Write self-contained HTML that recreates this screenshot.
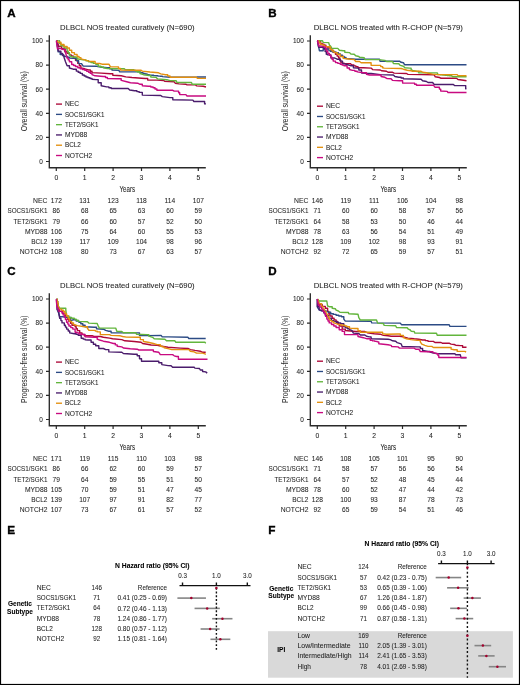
<!DOCTYPE html>
<html><head><meta charset="utf-8"><style>html,body{margin:0;padding:0;background:#fff;width:520px;height:685px;overflow:hidden}svg{will-change:transform}</style></head><body>
<svg width="520" height="685" viewBox="0 0 520 685" style="display:block;font-family:'Liberation Sans',sans-serif">
<rect x="0" y="0" width="520" height="685" fill="#fff"/>
<text x="7.30" y="16.90" font-size="11.6" font-weight="bold" fill="#000" stroke="#000" stroke-width="0.35">A</text>
<text x="60.10" y="30.05" font-size="8.0" textLength="134.40" lengthAdjust="spacingAndGlyphs" fill="#1e1e1e" stroke="#1e1e1e" stroke-width="0.06">DLBCL NOS treated curatively (N=690)</text>
<g transform="translate(23.60,101.25) rotate(-90)">
<text x="-30.00" y="3.03" font-size="8.8" textLength="60.00" lengthAdjust="spacingAndGlyphs" fill="#262626">Overall survival (%)</text>
</g>
<path d="M49.30 35.20V167.70H205.80" fill="none" stroke="#2a2a2a" stroke-width="1.35"/>
<text x="39.21" y="163.84" font-size="6.8" textLength="3.59" lengthAdjust="spacingAndGlyphs" fill="#1e1e1e" stroke="#1e1e1e" stroke-width="0.06">0</text>
<text x="35.62" y="139.74" font-size="6.8" textLength="7.18" lengthAdjust="spacingAndGlyphs" fill="#1e1e1e" stroke="#1e1e1e" stroke-width="0.06">20</text>
<text x="35.62" y="115.64" font-size="6.8" textLength="7.18" lengthAdjust="spacingAndGlyphs" fill="#1e1e1e" stroke="#1e1e1e" stroke-width="0.06">40</text>
<text x="35.62" y="91.54" font-size="6.8" textLength="7.18" lengthAdjust="spacingAndGlyphs" fill="#1e1e1e" stroke="#1e1e1e" stroke-width="0.06">60</text>
<text x="35.62" y="67.44" font-size="6.8" textLength="7.18" lengthAdjust="spacingAndGlyphs" fill="#1e1e1e" stroke="#1e1e1e" stroke-width="0.06">80</text>
<text x="32.02" y="43.34" font-size="6.8" textLength="10.78" lengthAdjust="spacingAndGlyphs" fill="#1e1e1e" stroke="#1e1e1e" stroke-width="0.06">100</text>
<text x="54.41" y="179.84" font-size="6.8" textLength="3.78" lengthAdjust="spacingAndGlyphs" fill="#1e1e1e" stroke="#1e1e1e" stroke-width="0.06">0</text>
<text x="82.81" y="179.84" font-size="6.8" textLength="3.78" lengthAdjust="spacingAndGlyphs" fill="#1e1e1e" stroke="#1e1e1e" stroke-width="0.06">1</text>
<text x="111.21" y="179.84" font-size="6.8" textLength="3.78" lengthAdjust="spacingAndGlyphs" fill="#1e1e1e" stroke="#1e1e1e" stroke-width="0.06">2</text>
<text x="139.61" y="179.84" font-size="6.8" textLength="3.78" lengthAdjust="spacingAndGlyphs" fill="#1e1e1e" stroke="#1e1e1e" stroke-width="0.06">3</text>
<text x="168.01" y="179.84" font-size="6.8" textLength="3.78" lengthAdjust="spacingAndGlyphs" fill="#1e1e1e" stroke="#1e1e1e" stroke-width="0.06">4</text>
<text x="196.41" y="179.84" font-size="6.8" textLength="3.78" lengthAdjust="spacingAndGlyphs" fill="#1e1e1e" stroke="#1e1e1e" stroke-width="0.06">5</text>
<path d="M46.00 161.50H49.30M46.00 137.40H49.30M46.00 113.30H49.30M46.00 89.20H49.30M46.00 65.10H49.30M46.00 41.00H49.30M56.30 167.70V171.00M84.70 167.70V171.00M113.10 167.70V171.00M141.50 167.70V171.00M169.90 167.70V171.00M198.30 167.70V171.00" stroke="#2a2a2a" stroke-width="1.2"/>
<text x="119.50" y="191.93" font-size="8.8" textLength="15.60" lengthAdjust="spacingAndGlyphs" fill="#1e1e1e" stroke="#1e1e1e" stroke-width="0.06">Years</text>
<path d="M56.00 104.10H62.00" stroke="#ad0838" stroke-width="1.35"/>
<text x="64.90" y="106.31" font-size="7.0" textLength="14.21" lengthAdjust="spacingAndGlyphs" fill="#1e1e1e" stroke="#1e1e1e" stroke-width="0.06">NEC</text>
<path d="M56.00 114.38H62.00" stroke="#2c4b85" stroke-width="1.35"/>
<text x="64.90" y="116.59" font-size="7.0" textLength="39.47" lengthAdjust="spacingAndGlyphs" fill="#1e1e1e" stroke="#1e1e1e" stroke-width="0.06">SOCS1/SGK1</text>
<path d="M56.00 124.66H62.00" stroke="#62b53c" stroke-width="1.35"/>
<text x="64.90" y="126.87" font-size="7.0" textLength="33.58" lengthAdjust="spacingAndGlyphs" fill="#1e1e1e" stroke="#1e1e1e" stroke-width="0.06">TET2/SGK1</text>
<path d="M56.00 134.94H62.00" stroke="#4a1c6c" stroke-width="1.35"/>
<text x="64.90" y="137.15" font-size="7.0" textLength="22.23" lengthAdjust="spacingAndGlyphs" fill="#1e1e1e" stroke="#1e1e1e" stroke-width="0.06">MYD88</text>
<path d="M56.00 145.22H62.00" stroke="#e3900f" stroke-width="1.35"/>
<text x="64.90" y="147.43" font-size="7.0" textLength="16.05" lengthAdjust="spacingAndGlyphs" fill="#1e1e1e" stroke="#1e1e1e" stroke-width="0.06">BCL2</text>
<path d="M56.00 155.50H62.00" stroke="#c80a80" stroke-width="1.35"/>
<text x="64.90" y="157.71" font-size="7.0" textLength="27.41" lengthAdjust="spacingAndGlyphs" fill="#1e1e1e" stroke="#1e1e1e" stroke-width="0.06">NOTCH2</text>
<text x="33.03" y="203.21" font-size="7.0" textLength="14.37" lengthAdjust="spacingAndGlyphs" fill="#1e1e1e" stroke="#1e1e1e" stroke-width="0.06">NEC</text>
<text x="50.75" y="203.21" font-size="7.0" textLength="11.09" lengthAdjust="spacingAndGlyphs" fill="#1e1e1e" stroke="#1e1e1e" stroke-width="0.06">172</text>
<text x="79.15" y="203.21" font-size="7.0" textLength="11.09" lengthAdjust="spacingAndGlyphs" fill="#1e1e1e" stroke="#1e1e1e" stroke-width="0.06">131</text>
<text x="107.55" y="203.21" font-size="7.0" textLength="11.09" lengthAdjust="spacingAndGlyphs" fill="#1e1e1e" stroke="#1e1e1e" stroke-width="0.06">123</text>
<text x="136.20" y="203.21" font-size="7.0" textLength="10.60" lengthAdjust="spacingAndGlyphs" fill="#1e1e1e" stroke="#1e1e1e" stroke-width="0.06">118</text>
<text x="164.60" y="203.21" font-size="7.0" textLength="10.60" lengthAdjust="spacingAndGlyphs" fill="#1e1e1e" stroke="#1e1e1e" stroke-width="0.06">114</text>
<text x="192.75" y="203.21" font-size="7.0" textLength="11.09" lengthAdjust="spacingAndGlyphs" fill="#1e1e1e" stroke="#1e1e1e" stroke-width="0.06">107</text>
<text x="7.48" y="213.41" font-size="7.0" textLength="39.92" lengthAdjust="spacingAndGlyphs" fill="#1e1e1e" stroke="#1e1e1e" stroke-width="0.06">SOCS1/SGK1</text>
<text x="52.60" y="213.41" font-size="7.0" textLength="7.40" lengthAdjust="spacingAndGlyphs" fill="#1e1e1e" stroke="#1e1e1e" stroke-width="0.06">86</text>
<text x="81.00" y="213.41" font-size="7.0" textLength="7.40" lengthAdjust="spacingAndGlyphs" fill="#1e1e1e" stroke="#1e1e1e" stroke-width="0.06">68</text>
<text x="109.40" y="213.41" font-size="7.0" textLength="7.40" lengthAdjust="spacingAndGlyphs" fill="#1e1e1e" stroke="#1e1e1e" stroke-width="0.06">65</text>
<text x="137.80" y="213.41" font-size="7.0" textLength="7.40" lengthAdjust="spacingAndGlyphs" fill="#1e1e1e" stroke="#1e1e1e" stroke-width="0.06">63</text>
<text x="166.20" y="213.41" font-size="7.0" textLength="7.40" lengthAdjust="spacingAndGlyphs" fill="#1e1e1e" stroke="#1e1e1e" stroke-width="0.06">60</text>
<text x="194.60" y="213.41" font-size="7.0" textLength="7.40" lengthAdjust="spacingAndGlyphs" fill="#1e1e1e" stroke="#1e1e1e" stroke-width="0.06">59</text>
<text x="13.44" y="223.61" font-size="7.0" textLength="33.96" lengthAdjust="spacingAndGlyphs" fill="#1e1e1e" stroke="#1e1e1e" stroke-width="0.06">TET2/SGK1</text>
<text x="52.60" y="223.61" font-size="7.0" textLength="7.40" lengthAdjust="spacingAndGlyphs" fill="#1e1e1e" stroke="#1e1e1e" stroke-width="0.06">79</text>
<text x="81.00" y="223.61" font-size="7.0" textLength="7.40" lengthAdjust="spacingAndGlyphs" fill="#1e1e1e" stroke="#1e1e1e" stroke-width="0.06">66</text>
<text x="109.40" y="223.61" font-size="7.0" textLength="7.40" lengthAdjust="spacingAndGlyphs" fill="#1e1e1e" stroke="#1e1e1e" stroke-width="0.06">60</text>
<text x="137.80" y="223.61" font-size="7.0" textLength="7.40" lengthAdjust="spacingAndGlyphs" fill="#1e1e1e" stroke="#1e1e1e" stroke-width="0.06">57</text>
<text x="166.20" y="223.61" font-size="7.0" textLength="7.40" lengthAdjust="spacingAndGlyphs" fill="#1e1e1e" stroke="#1e1e1e" stroke-width="0.06">52</text>
<text x="194.60" y="223.61" font-size="7.0" textLength="7.40" lengthAdjust="spacingAndGlyphs" fill="#1e1e1e" stroke="#1e1e1e" stroke-width="0.06">50</text>
<text x="24.92" y="233.81" font-size="7.0" textLength="22.48" lengthAdjust="spacingAndGlyphs" fill="#1e1e1e" stroke="#1e1e1e" stroke-width="0.06">MYD88</text>
<text x="50.75" y="233.81" font-size="7.0" textLength="11.09" lengthAdjust="spacingAndGlyphs" fill="#1e1e1e" stroke="#1e1e1e" stroke-width="0.06">106</text>
<text x="81.00" y="233.81" font-size="7.0" textLength="7.40" lengthAdjust="spacingAndGlyphs" fill="#1e1e1e" stroke="#1e1e1e" stroke-width="0.06">75</text>
<text x="109.40" y="233.81" font-size="7.0" textLength="7.40" lengthAdjust="spacingAndGlyphs" fill="#1e1e1e" stroke="#1e1e1e" stroke-width="0.06">64</text>
<text x="137.80" y="233.81" font-size="7.0" textLength="7.40" lengthAdjust="spacingAndGlyphs" fill="#1e1e1e" stroke="#1e1e1e" stroke-width="0.06">60</text>
<text x="166.20" y="233.81" font-size="7.0" textLength="7.40" lengthAdjust="spacingAndGlyphs" fill="#1e1e1e" stroke="#1e1e1e" stroke-width="0.06">55</text>
<text x="194.60" y="233.81" font-size="7.0" textLength="7.40" lengthAdjust="spacingAndGlyphs" fill="#1e1e1e" stroke="#1e1e1e" stroke-width="0.06">53</text>
<text x="31.17" y="244.01" font-size="7.0" textLength="16.23" lengthAdjust="spacingAndGlyphs" fill="#1e1e1e" stroke="#1e1e1e" stroke-width="0.06">BCL2</text>
<text x="50.75" y="244.01" font-size="7.0" textLength="11.09" lengthAdjust="spacingAndGlyphs" fill="#1e1e1e" stroke="#1e1e1e" stroke-width="0.06">139</text>
<text x="79.40" y="244.01" font-size="7.0" textLength="10.60" lengthAdjust="spacingAndGlyphs" fill="#1e1e1e" stroke="#1e1e1e" stroke-width="0.06">117</text>
<text x="107.55" y="244.01" font-size="7.0" textLength="11.09" lengthAdjust="spacingAndGlyphs" fill="#1e1e1e" stroke="#1e1e1e" stroke-width="0.06">109</text>
<text x="135.95" y="244.01" font-size="7.0" textLength="11.09" lengthAdjust="spacingAndGlyphs" fill="#1e1e1e" stroke="#1e1e1e" stroke-width="0.06">104</text>
<text x="166.20" y="244.01" font-size="7.0" textLength="7.40" lengthAdjust="spacingAndGlyphs" fill="#1e1e1e" stroke="#1e1e1e" stroke-width="0.06">98</text>
<text x="194.60" y="244.01" font-size="7.0" textLength="7.40" lengthAdjust="spacingAndGlyphs" fill="#1e1e1e" stroke="#1e1e1e" stroke-width="0.06">96</text>
<text x="19.69" y="254.21" font-size="7.0" textLength="27.71" lengthAdjust="spacingAndGlyphs" fill="#1e1e1e" stroke="#1e1e1e" stroke-width="0.06">NOTCH2</text>
<text x="50.75" y="254.21" font-size="7.0" textLength="11.09" lengthAdjust="spacingAndGlyphs" fill="#1e1e1e" stroke="#1e1e1e" stroke-width="0.06">108</text>
<text x="81.00" y="254.21" font-size="7.0" textLength="7.40" lengthAdjust="spacingAndGlyphs" fill="#1e1e1e" stroke="#1e1e1e" stroke-width="0.06">80</text>
<text x="109.40" y="254.21" font-size="7.0" textLength="7.40" lengthAdjust="spacingAndGlyphs" fill="#1e1e1e" stroke="#1e1e1e" stroke-width="0.06">73</text>
<text x="137.80" y="254.21" font-size="7.0" textLength="7.40" lengthAdjust="spacingAndGlyphs" fill="#1e1e1e" stroke="#1e1e1e" stroke-width="0.06">67</text>
<text x="166.20" y="254.21" font-size="7.0" textLength="7.40" lengthAdjust="spacingAndGlyphs" fill="#1e1e1e" stroke="#1e1e1e" stroke-width="0.06">63</text>
<text x="194.60" y="254.21" font-size="7.0" textLength="7.40" lengthAdjust="spacingAndGlyphs" fill="#1e1e1e" stroke="#1e1e1e" stroke-width="0.06">57</text>
<path d="M56.7,40.7 H57.3 V42.6 H58.0 V44.6 H58.6 V46.5 H61.7 V48.8 H64.8 V51.8 H67.1 V53.3 H69.4 V54.9 H71.3 V56.0 H73.2 V57.2 H75.5 V60.3 H77.8 V63.4 H79.3 V65.7 H80.9 V68.0 L84.8,68.8 L88.6,69.9 H90.3 V71.2 H92.0 V72.6 L101.2,73.1 L110.5,73.8 H112.8 V75.2 L121.2,75.8 L125.8,76.9 L132.0,77.5 L141.5,78.2 L145.4,78.5 H147.7 V80.1 L156.9,80.1 L163.8,80.5 L164.6,81.2 L174.2,81.8 L175.2,83.2 L179.0,83.9 L186.0,84.2 L187.0,84.9 L195.6,84.9 L196.7,85.9 L203.2,86.3 L206.0,87.0" fill="none" stroke="#ad0838" stroke-width="1.4" stroke-linejoin="round"/>
<path d="M56.7,40.7 L58.2,51.8 H60.2 V54.5 H63.2 V56.1 L65.5,56.5 H67.5 V57.2 H69.4 V58.0 L73.2,58.4 H76.3 V60.7 H78.6 V63.4 L81.7,63.8 L83.2,66.1 L96.6,66.2 L102.0,67.3 L107.4,67.7 H109.7 V68.8 H112.0 V70.0 L118.9,70.4 L119.7,71.9 L137.7,71.9 H140.3 V72.7 H143.0 V73.5 H145.1 V74.0 H147.1 V74.6 H149.2 V75.1 H151.4 V75.3 H153.6 V75.6 H155.8 V75.8 H157.9 V76.1 H160.1 V76.3 H162.3 V76.6 L170.0,77.3 L196.7,77.3 L197.4,77.0 L206.0,77.0" fill="none" stroke="#2c4b85" stroke-width="1.4" stroke-linejoin="round"/>
<path d="M58.2,40.7 H59.5 V43.2 H60.9 V45.7 H64.0 V48.0 H67.1 V51.1 H68.2 V52.8 H69.4 V54.5 L70.9,56.5 L74.8,57.2 H77.1 V58.8 L83.2,59.9 H85.9 V60.8 H88.6 V61.8 H91.0 V62.6 H93.4 V63.4 H95.8 V64.2 H98.2 V66.2 H100.8 V67.0 H103.5 V67.7 L107.4,68.5 L124.3,68.8 L125.1,69.6 L132.0,69.6 H133.9 V70.4 H135.8 V71.2 H137.7 V72.0 H140.0 V73.5 L143.5,74.7 L149.2,75.5 H150.8 V77.0 L156.2,77.4 L157.7,78.9 L166.9,79.7 L170.0,80.6 L176.2,80.7 L176.9,82.5 L191.5,82.5 L192.2,84.2 L206.0,84.2" fill="none" stroke="#62b53c" stroke-width="1.4" stroke-linejoin="round"/>
<path d="M56.7,40.7 L58.2,51.1 H60.9 V53.4 H62.5 V55.3 H64.0 V57.2 L65.5,61.8 L67.1,65.7 H69.4 V68.0 L73.2,69.2 H76.3 V71.1 H78.2 V72.2 H80.2 V73.4 H82.3 V75.0 H84.2 V76.0 H86.0 V77.0 H88.0 V77.7 H90.0 V78.5 H92.0 V79.2 L95.8,79.6 H98.2 V82.7 H101.2 V85.8 L106.6,86.9 H108.9 V87.7 H111.2 V88.5 L128.2,88.5 L129.7,90.0 L134.6,90.8 H136.9 V91.6 H139.2 V92.4 H142.3 V95.1 L160.8,95.5 L162.3,96.6 L170.0,97.6 H172.8 V99.8 L192.9,100.1 L193.9,101.5 L202.5,101.5 H204.6 V103.9 L206.0,103.9" fill="none" stroke="#4a1c6c" stroke-width="1.4" stroke-linejoin="round"/>
<path d="M56.7,40.7 L58.2,42.2 H60.9 V44.5 H64.0 V46.5 H67.1 V48.0 H69.4 V50.3 H71.7 V52.6 H74.4 V54.5 H77.1 V56.5 H79.0 V57.6 H80.9 V58.8 L84.8,59.9 L88.6,61.1 L92.0,61.5 H95.1 V63.1 L99.7,63.5 L102.0,64.2 L108.9,64.2 L110.5,66.9 L116.6,66.9 H118.5 V68.5 H120.5 V70.0 L130.0,70.2 L140.8,70.1 L142.3,71.1 L150.0,72.0 L158.5,72.8 L160.8,73.9 L165.4,74.7 H167.7 V76.0 H170.0 V77.3 L196.7,77.3 L197.4,78.4 L206.0,78.4" fill="none" stroke="#e3900f" stroke-width="1.4" stroke-linejoin="round"/>
<path d="M56.3,40.7 L57.5,48.8 L60.2,48.4 L63.2,49.5 H65.5 V52.6 L67.1,58.0 H68.2 V59.9 H69.4 V61.8 H71.7 V64.5 H73.6 V65.5 H75.5 V66.5 H77.8 V67.7 H80.2 V68.8 H82.5 V69.5 H84.8 V70.3 H86.7 V71.2 H88.6 V72.2 H90.3 V73.4 H92.0 V74.6 L95.1,75.8 L103.5,76.5 H105.5 V77.5 H107.4 V78.5 L118.2,78.8 H121.2 V80.4 L125.8,81.5 L130.5,82.7 L137.7,83.2 L140.0,84.3 H142.3 V85.8 L148.5,86.2 H150.8 V87.0 H153.1 V87.8 H155.0 V89.0 H156.9 V90.3 L172.8,90.3 L174.2,91.1 L177.6,91.1 H178.6 V92.8 H179.7 V94.6 L185.9,94.6 L187.0,96.0 L206.0,96.0" fill="none" stroke="#c80a80" stroke-width="1.4" stroke-linejoin="round"/>
<text x="268.30" y="16.90" font-size="11.6" font-weight="bold" fill="#000" stroke="#000" stroke-width="0.35">B</text>
<text x="313.70" y="30.05" font-size="8.0" textLength="149.20" lengthAdjust="spacingAndGlyphs" fill="#1e1e1e" stroke="#1e1e1e" stroke-width="0.06">DLBCL NOS treated with R-CHOP (N=579)</text>
<g transform="translate(284.60,101.25) rotate(-90)">
<text x="-30.00" y="3.03" font-size="8.8" textLength="60.00" lengthAdjust="spacingAndGlyphs" fill="#262626">Overall survival (%)</text>
</g>
<path d="M310.30 35.20V167.70H466.80" fill="none" stroke="#2a2a2a" stroke-width="1.35"/>
<text x="300.21" y="163.84" font-size="6.8" textLength="3.59" lengthAdjust="spacingAndGlyphs" fill="#1e1e1e" stroke="#1e1e1e" stroke-width="0.06">0</text>
<text x="296.62" y="139.74" font-size="6.8" textLength="7.18" lengthAdjust="spacingAndGlyphs" fill="#1e1e1e" stroke="#1e1e1e" stroke-width="0.06">20</text>
<text x="296.62" y="115.64" font-size="6.8" textLength="7.18" lengthAdjust="spacingAndGlyphs" fill="#1e1e1e" stroke="#1e1e1e" stroke-width="0.06">40</text>
<text x="296.62" y="91.54" font-size="6.8" textLength="7.18" lengthAdjust="spacingAndGlyphs" fill="#1e1e1e" stroke="#1e1e1e" stroke-width="0.06">60</text>
<text x="296.62" y="67.44" font-size="6.8" textLength="7.18" lengthAdjust="spacingAndGlyphs" fill="#1e1e1e" stroke="#1e1e1e" stroke-width="0.06">80</text>
<text x="293.02" y="43.34" font-size="6.8" textLength="10.78" lengthAdjust="spacingAndGlyphs" fill="#1e1e1e" stroke="#1e1e1e" stroke-width="0.06">100</text>
<text x="315.41" y="179.84" font-size="6.8" textLength="3.78" lengthAdjust="spacingAndGlyphs" fill="#1e1e1e" stroke="#1e1e1e" stroke-width="0.06">0</text>
<text x="343.81" y="179.84" font-size="6.8" textLength="3.78" lengthAdjust="spacingAndGlyphs" fill="#1e1e1e" stroke="#1e1e1e" stroke-width="0.06">1</text>
<text x="372.21" y="179.84" font-size="6.8" textLength="3.78" lengthAdjust="spacingAndGlyphs" fill="#1e1e1e" stroke="#1e1e1e" stroke-width="0.06">2</text>
<text x="400.61" y="179.84" font-size="6.8" textLength="3.78" lengthAdjust="spacingAndGlyphs" fill="#1e1e1e" stroke="#1e1e1e" stroke-width="0.06">3</text>
<text x="429.01" y="179.84" font-size="6.8" textLength="3.78" lengthAdjust="spacingAndGlyphs" fill="#1e1e1e" stroke="#1e1e1e" stroke-width="0.06">4</text>
<text x="457.41" y="179.84" font-size="6.8" textLength="3.78" lengthAdjust="spacingAndGlyphs" fill="#1e1e1e" stroke="#1e1e1e" stroke-width="0.06">5</text>
<path d="M307.00 161.50H310.30M307.00 137.40H310.30M307.00 113.30H310.30M307.00 89.20H310.30M307.00 65.10H310.30M307.00 41.00H310.30M317.30 167.70V171.00M345.70 167.70V171.00M374.10 167.70V171.00M402.50 167.70V171.00M430.90 167.70V171.00M459.30 167.70V171.00" stroke="#2a2a2a" stroke-width="1.2"/>
<text x="380.50" y="191.93" font-size="8.8" textLength="15.60" lengthAdjust="spacingAndGlyphs" fill="#1e1e1e" stroke="#1e1e1e" stroke-width="0.06">Years</text>
<path d="M317.00 106.20H323.00" stroke="#ad0838" stroke-width="1.35"/>
<text x="325.90" y="108.41" font-size="7.0" textLength="14.21" lengthAdjust="spacingAndGlyphs" fill="#1e1e1e" stroke="#1e1e1e" stroke-width="0.06">NEC</text>
<path d="M317.00 116.48H323.00" stroke="#2c4b85" stroke-width="1.35"/>
<text x="325.90" y="118.69" font-size="7.0" textLength="39.47" lengthAdjust="spacingAndGlyphs" fill="#1e1e1e" stroke="#1e1e1e" stroke-width="0.06">SOCS1/SGK1</text>
<path d="M317.00 126.76H323.00" stroke="#62b53c" stroke-width="1.35"/>
<text x="325.90" y="128.97" font-size="7.0" textLength="33.58" lengthAdjust="spacingAndGlyphs" fill="#1e1e1e" stroke="#1e1e1e" stroke-width="0.06">TET2/SGK1</text>
<path d="M317.00 137.04H323.00" stroke="#4a1c6c" stroke-width="1.35"/>
<text x="325.90" y="139.25" font-size="7.0" textLength="22.23" lengthAdjust="spacingAndGlyphs" fill="#1e1e1e" stroke="#1e1e1e" stroke-width="0.06">MYD88</text>
<path d="M317.00 147.32H323.00" stroke="#e3900f" stroke-width="1.35"/>
<text x="325.90" y="149.53" font-size="7.0" textLength="16.05" lengthAdjust="spacingAndGlyphs" fill="#1e1e1e" stroke="#1e1e1e" stroke-width="0.06">BCL2</text>
<path d="M317.00 157.60H323.00" stroke="#c80a80" stroke-width="1.35"/>
<text x="325.90" y="159.81" font-size="7.0" textLength="27.41" lengthAdjust="spacingAndGlyphs" fill="#1e1e1e" stroke="#1e1e1e" stroke-width="0.06">NOTCH2</text>
<text x="294.03" y="203.21" font-size="7.0" textLength="14.37" lengthAdjust="spacingAndGlyphs" fill="#1e1e1e" stroke="#1e1e1e" stroke-width="0.06">NEC</text>
<text x="311.75" y="203.21" font-size="7.0" textLength="11.09" lengthAdjust="spacingAndGlyphs" fill="#1e1e1e" stroke="#1e1e1e" stroke-width="0.06">146</text>
<text x="340.40" y="203.21" font-size="7.0" textLength="10.60" lengthAdjust="spacingAndGlyphs" fill="#1e1e1e" stroke="#1e1e1e" stroke-width="0.06">119</text>
<text x="369.05" y="203.21" font-size="7.0" textLength="10.11" lengthAdjust="spacingAndGlyphs" fill="#1e1e1e" stroke="#1e1e1e" stroke-width="0.06">111</text>
<text x="396.95" y="203.21" font-size="7.0" textLength="11.09" lengthAdjust="spacingAndGlyphs" fill="#1e1e1e" stroke="#1e1e1e" stroke-width="0.06">106</text>
<text x="425.35" y="203.21" font-size="7.0" textLength="11.09" lengthAdjust="spacingAndGlyphs" fill="#1e1e1e" stroke="#1e1e1e" stroke-width="0.06">104</text>
<text x="455.60" y="203.21" font-size="7.0" textLength="7.40" lengthAdjust="spacingAndGlyphs" fill="#1e1e1e" stroke="#1e1e1e" stroke-width="0.06">98</text>
<text x="268.48" y="213.41" font-size="7.0" textLength="39.92" lengthAdjust="spacingAndGlyphs" fill="#1e1e1e" stroke="#1e1e1e" stroke-width="0.06">SOCS1/SGK1</text>
<text x="313.60" y="213.41" font-size="7.0" textLength="7.40" lengthAdjust="spacingAndGlyphs" fill="#1e1e1e" stroke="#1e1e1e" stroke-width="0.06">71</text>
<text x="342.00" y="213.41" font-size="7.0" textLength="7.40" lengthAdjust="spacingAndGlyphs" fill="#1e1e1e" stroke="#1e1e1e" stroke-width="0.06">60</text>
<text x="370.40" y="213.41" font-size="7.0" textLength="7.40" lengthAdjust="spacingAndGlyphs" fill="#1e1e1e" stroke="#1e1e1e" stroke-width="0.06">60</text>
<text x="398.80" y="213.41" font-size="7.0" textLength="7.40" lengthAdjust="spacingAndGlyphs" fill="#1e1e1e" stroke="#1e1e1e" stroke-width="0.06">58</text>
<text x="427.20" y="213.41" font-size="7.0" textLength="7.40" lengthAdjust="spacingAndGlyphs" fill="#1e1e1e" stroke="#1e1e1e" stroke-width="0.06">57</text>
<text x="455.60" y="213.41" font-size="7.0" textLength="7.40" lengthAdjust="spacingAndGlyphs" fill="#1e1e1e" stroke="#1e1e1e" stroke-width="0.06">56</text>
<text x="274.44" y="223.61" font-size="7.0" textLength="33.96" lengthAdjust="spacingAndGlyphs" fill="#1e1e1e" stroke="#1e1e1e" stroke-width="0.06">TET2/SGK1</text>
<text x="313.60" y="223.61" font-size="7.0" textLength="7.40" lengthAdjust="spacingAndGlyphs" fill="#1e1e1e" stroke="#1e1e1e" stroke-width="0.06">64</text>
<text x="342.00" y="223.61" font-size="7.0" textLength="7.40" lengthAdjust="spacingAndGlyphs" fill="#1e1e1e" stroke="#1e1e1e" stroke-width="0.06">58</text>
<text x="370.40" y="223.61" font-size="7.0" textLength="7.40" lengthAdjust="spacingAndGlyphs" fill="#1e1e1e" stroke="#1e1e1e" stroke-width="0.06">53</text>
<text x="398.80" y="223.61" font-size="7.0" textLength="7.40" lengthAdjust="spacingAndGlyphs" fill="#1e1e1e" stroke="#1e1e1e" stroke-width="0.06">50</text>
<text x="427.20" y="223.61" font-size="7.0" textLength="7.40" lengthAdjust="spacingAndGlyphs" fill="#1e1e1e" stroke="#1e1e1e" stroke-width="0.06">46</text>
<text x="455.60" y="223.61" font-size="7.0" textLength="7.40" lengthAdjust="spacingAndGlyphs" fill="#1e1e1e" stroke="#1e1e1e" stroke-width="0.06">44</text>
<text x="285.92" y="233.81" font-size="7.0" textLength="22.48" lengthAdjust="spacingAndGlyphs" fill="#1e1e1e" stroke="#1e1e1e" stroke-width="0.06">MYD88</text>
<text x="313.60" y="233.81" font-size="7.0" textLength="7.40" lengthAdjust="spacingAndGlyphs" fill="#1e1e1e" stroke="#1e1e1e" stroke-width="0.06">78</text>
<text x="342.00" y="233.81" font-size="7.0" textLength="7.40" lengthAdjust="spacingAndGlyphs" fill="#1e1e1e" stroke="#1e1e1e" stroke-width="0.06">63</text>
<text x="370.40" y="233.81" font-size="7.0" textLength="7.40" lengthAdjust="spacingAndGlyphs" fill="#1e1e1e" stroke="#1e1e1e" stroke-width="0.06">56</text>
<text x="398.80" y="233.81" font-size="7.0" textLength="7.40" lengthAdjust="spacingAndGlyphs" fill="#1e1e1e" stroke="#1e1e1e" stroke-width="0.06">54</text>
<text x="427.20" y="233.81" font-size="7.0" textLength="7.40" lengthAdjust="spacingAndGlyphs" fill="#1e1e1e" stroke="#1e1e1e" stroke-width="0.06">51</text>
<text x="455.60" y="233.81" font-size="7.0" textLength="7.40" lengthAdjust="spacingAndGlyphs" fill="#1e1e1e" stroke="#1e1e1e" stroke-width="0.06">49</text>
<text x="292.17" y="244.01" font-size="7.0" textLength="16.23" lengthAdjust="spacingAndGlyphs" fill="#1e1e1e" stroke="#1e1e1e" stroke-width="0.06">BCL2</text>
<text x="311.75" y="244.01" font-size="7.0" textLength="11.09" lengthAdjust="spacingAndGlyphs" fill="#1e1e1e" stroke="#1e1e1e" stroke-width="0.06">128</text>
<text x="340.15" y="244.01" font-size="7.0" textLength="11.09" lengthAdjust="spacingAndGlyphs" fill="#1e1e1e" stroke="#1e1e1e" stroke-width="0.06">109</text>
<text x="368.55" y="244.01" font-size="7.0" textLength="11.09" lengthAdjust="spacingAndGlyphs" fill="#1e1e1e" stroke="#1e1e1e" stroke-width="0.06">102</text>
<text x="398.80" y="244.01" font-size="7.0" textLength="7.40" lengthAdjust="spacingAndGlyphs" fill="#1e1e1e" stroke="#1e1e1e" stroke-width="0.06">98</text>
<text x="427.20" y="244.01" font-size="7.0" textLength="7.40" lengthAdjust="spacingAndGlyphs" fill="#1e1e1e" stroke="#1e1e1e" stroke-width="0.06">93</text>
<text x="455.60" y="244.01" font-size="7.0" textLength="7.40" lengthAdjust="spacingAndGlyphs" fill="#1e1e1e" stroke="#1e1e1e" stroke-width="0.06">91</text>
<text x="280.69" y="254.21" font-size="7.0" textLength="27.71" lengthAdjust="spacingAndGlyphs" fill="#1e1e1e" stroke="#1e1e1e" stroke-width="0.06">NOTCH2</text>
<text x="313.60" y="254.21" font-size="7.0" textLength="7.40" lengthAdjust="spacingAndGlyphs" fill="#1e1e1e" stroke="#1e1e1e" stroke-width="0.06">92</text>
<text x="342.00" y="254.21" font-size="7.0" textLength="7.40" lengthAdjust="spacingAndGlyphs" fill="#1e1e1e" stroke="#1e1e1e" stroke-width="0.06">72</text>
<text x="370.40" y="254.21" font-size="7.0" textLength="7.40" lengthAdjust="spacingAndGlyphs" fill="#1e1e1e" stroke="#1e1e1e" stroke-width="0.06">65</text>
<text x="398.80" y="254.21" font-size="7.0" textLength="7.40" lengthAdjust="spacingAndGlyphs" fill="#1e1e1e" stroke="#1e1e1e" stroke-width="0.06">59</text>
<text x="427.20" y="254.21" font-size="7.0" textLength="7.40" lengthAdjust="spacingAndGlyphs" fill="#1e1e1e" stroke="#1e1e1e" stroke-width="0.06">57</text>
<text x="455.60" y="254.21" font-size="7.0" textLength="7.40" lengthAdjust="spacingAndGlyphs" fill="#1e1e1e" stroke="#1e1e1e" stroke-width="0.06">51</text>
<path d="M317.5,40.9 H320.5 V43.4 H322.2 V44.3 H324.0 V45.3 H325.9 V46.6 H327.8 V48.0 H330.9 V50.3 H333.2 V52.2 H335.5 V54.2 H337.1 V56.1 H338.6 V58.0 H339.8 V60.3 H340.9 V62.6 L344.8,63.4 L348.0,63.6 L350.3,63.6 L351.8,65.0 H353.9 V65.9 H355.9 V66.8 H358.0 V67.7 L363.4,67.7 L371.1,68.1 L372.6,69.6 L380.3,70.0 L381.8,70.8 L386.5,71.2 L388.0,72.3 L392.6,72.3 L394.2,73.1 L406.5,73.5 L408.0,74.4 L434.2,74.8 L435.3,76.8 L439.5,77.5 L441.1,78.3 L456.5,78.3 L458.0,79.5 L463.4,80.2 L466.5,80.8" fill="none" stroke="#ad0838" stroke-width="1.4" stroke-linejoin="round"/>
<path d="M317.5,40.9 L318.6,46.5 L319.4,50.7 L323.2,50.7 L323.2,48.2 L326.0,49.0 H328.1 V50.1 H330.2 V51.2 H332.2 V51.7 H334.3 V52.1 H336.3 V52.6 H338.4 V53.9 H340.4 V55.2 H342.5 V56.5 H344.2 V57.5 H346.0 V58.5 L355.7,59.2 L379.5,59.2 L380.0,61.2 L399.5,61.2 L401.1,62.3 L403.4,62.7 L404.5,64.7 L466.5,64.7" fill="none" stroke="#2c4b85" stroke-width="1.4" stroke-linejoin="round"/>
<path d="M317.5,40.7 L322.5,40.7 L323.2,42.4 L328.6,42.6 L329.4,44.9 L330.9,46.5 L331.7,48.2 L337.8,48.4 L339.4,50.3 L343.2,50.7 H344.8 V52.2 L349.4,52.6 L350.9,54.0 L354.2,54.2 L355.7,55.8 L358.8,56.5 L359.5,57.3 L364.2,57.7 L364.9,59.6 L378.8,59.6 L384.9,60.4 L386.5,61.5 L392.6,61.5 L393.4,63.5 L398.8,63.8 L400.3,65.4 L403.4,66.2 L404.9,67.7 L409.5,68.1 H411.1 V69.6 L412.6,70.4 L417.2,71.5 H418.8 V72.9 L437.2,72.9 L438.0,74.6 H440.3 V74.8 H442.6 V75.1 H444.9 V75.3 H447.2 V75.5 H449.5 V75.8 H451.8 V76.0 L452.6,76.8 L466.5,76.8" fill="none" stroke="#62b53c" stroke-width="1.4" stroke-linejoin="round"/>
<path d="M317.5,40.9 L318.6,47.2 L321.7,47.2 H324.0 V48.8 H325.1 V51.5 H326.3 V54.2 L327.8,54.9 H330.9 V58.0 L334.8,58.0 L337.1,59.2 H340.2 V61.1 H342.5 V63.4 L347.1,64.5 L351.1,65.8 H353.4 V67.7 L357.2,68.1 H358.8 V70.0 H361.5 V71.5 L361.8,73.1 L371.1,73.5 L380.3,74.6 L393.4,75.0 L394.9,76.5 L398.8,77.3 H401.1 V78.0 H403.4 V78.8 L421.1,79.2 L422.6,80.8 L426.5,81.5 L428.0,82.5 L432.6,82.5 L434.2,84.5 L453.4,84.5 L454.5,85.6 L463.4,85.6 H465.7 V88.7 L466.5,88.9" fill="none" stroke="#4a1c6c" stroke-width="1.4" stroke-linejoin="round"/>
<path d="M317.5,40.9 H318.9 V42.5 H320.2 V44.2 H322.1 V45.0 H324.0 V45.7 L327.1,46.8 H330.2 V49.5 H332.1 V51.0 H334.0 V52.6 H337.1 V54.2 H340.2 V56.5 H343.2 V58.4 L348.6,59.0 L354.2,59.6 L355.7,61.5 L359.5,61.5 L361.1,62.7 L369.5,62.8 H371.1 V65.2 L378.8,65.4 H380.7 V66.6 H382.6 V67.7 L384.2,68.1 L401.1,68.5 L403.4,69.2 L407.2,70.2 L411.1,70.8 L412.6,71.2 L421.1,71.2 L422.6,72.3 L426.5,72.7 L428.0,73.3 L432.6,74.1 L437.2,74.6 L457.2,74.6 L458.0,75.6 L466.5,75.8" fill="none" stroke="#e3900f" stroke-width="1.4" stroke-linejoin="round"/>
<path d="M317.0,40.7 H317.8 V43.2 H318.6 V45.7 L321.7,46.1 L324.8,47.2 H325.8 V49.3 H326.8 V51.3 H327.8 V53.4 H329.4 V55.3 H330.9 V57.2 H332.0 V59.2 H333.2 V61.1 H335.5 V62.6 H337.9 V63.4 H340.2 V64.2 H342.1 V65.0 H344.0 V65.7 H347.1 V68.0 H349.4 V69.5 L352.6,70.4 H354.9 V71.2 H357.2 V71.9 L363.4,72.7 H366.5 V74.2 L369.5,75.0 L378.8,75.0 H381.1 V76.5 L384.9,77.3 L387.2,78.6 L391.1,78.8 L392.6,80.4 L399.5,80.8 H402.6 V83.1 L412.6,83.1 H414.6 V84.2 H416.5 V85.2 L433.4,85.2 L434.9,87.2 L438.0,87.2 H439.4 V89.1 H440.7 V91.0 L447.2,91.4 L448.0,92.5 L466.5,92.5" fill="none" stroke="#c80a80" stroke-width="1.4" stroke-linejoin="round"/>
<text x="7.30" y="274.90" font-size="11.6" font-weight="bold" fill="#000" stroke="#000" stroke-width="0.35">C</text>
<text x="60.10" y="288.05" font-size="8.0" textLength="134.40" lengthAdjust="spacingAndGlyphs" fill="#1e1e1e" stroke="#1e1e1e" stroke-width="0.06">DLBCL NOS treated curatively (N=690)</text>
<g transform="translate(23.60,359.25) rotate(-90)">
<text x="-43.75" y="3.03" font-size="8.8" textLength="87.50" lengthAdjust="spacingAndGlyphs" fill="#262626">Progression-free survival (%)</text>
</g>
<path d="M49.30 293.20V425.70H205.80" fill="none" stroke="#2a2a2a" stroke-width="1.35"/>
<text x="39.21" y="421.84" font-size="6.8" textLength="3.59" lengthAdjust="spacingAndGlyphs" fill="#1e1e1e" stroke="#1e1e1e" stroke-width="0.06">0</text>
<text x="35.62" y="397.74" font-size="6.8" textLength="7.18" lengthAdjust="spacingAndGlyphs" fill="#1e1e1e" stroke="#1e1e1e" stroke-width="0.06">20</text>
<text x="35.62" y="373.64" font-size="6.8" textLength="7.18" lengthAdjust="spacingAndGlyphs" fill="#1e1e1e" stroke="#1e1e1e" stroke-width="0.06">40</text>
<text x="35.62" y="349.54" font-size="6.8" textLength="7.18" lengthAdjust="spacingAndGlyphs" fill="#1e1e1e" stroke="#1e1e1e" stroke-width="0.06">60</text>
<text x="35.62" y="325.44" font-size="6.8" textLength="7.18" lengthAdjust="spacingAndGlyphs" fill="#1e1e1e" stroke="#1e1e1e" stroke-width="0.06">80</text>
<text x="32.02" y="301.34" font-size="6.8" textLength="10.78" lengthAdjust="spacingAndGlyphs" fill="#1e1e1e" stroke="#1e1e1e" stroke-width="0.06">100</text>
<text x="54.41" y="437.84" font-size="6.8" textLength="3.78" lengthAdjust="spacingAndGlyphs" fill="#1e1e1e" stroke="#1e1e1e" stroke-width="0.06">0</text>
<text x="82.81" y="437.84" font-size="6.8" textLength="3.78" lengthAdjust="spacingAndGlyphs" fill="#1e1e1e" stroke="#1e1e1e" stroke-width="0.06">1</text>
<text x="111.21" y="437.84" font-size="6.8" textLength="3.78" lengthAdjust="spacingAndGlyphs" fill="#1e1e1e" stroke="#1e1e1e" stroke-width="0.06">2</text>
<text x="139.61" y="437.84" font-size="6.8" textLength="3.78" lengthAdjust="spacingAndGlyphs" fill="#1e1e1e" stroke="#1e1e1e" stroke-width="0.06">3</text>
<text x="168.01" y="437.84" font-size="6.8" textLength="3.78" lengthAdjust="spacingAndGlyphs" fill="#1e1e1e" stroke="#1e1e1e" stroke-width="0.06">4</text>
<text x="196.41" y="437.84" font-size="6.8" textLength="3.78" lengthAdjust="spacingAndGlyphs" fill="#1e1e1e" stroke="#1e1e1e" stroke-width="0.06">5</text>
<path d="M46.00 419.50H49.30M46.00 395.40H49.30M46.00 371.30H49.30M46.00 347.20H49.30M46.00 323.10H49.30M46.00 299.00H49.30M56.30 425.70V429.00M84.70 425.70V429.00M113.10 425.70V429.00M141.50 425.70V429.00M169.90 425.70V429.00M198.30 425.70V429.00" stroke="#2a2a2a" stroke-width="1.2"/>
<text x="119.50" y="449.93" font-size="8.8" textLength="15.60" lengthAdjust="spacingAndGlyphs" fill="#1e1e1e" stroke="#1e1e1e" stroke-width="0.06">Years</text>
<path d="M56.00 362.10H62.00" stroke="#ad0838" stroke-width="1.35"/>
<text x="64.90" y="364.31" font-size="7.0" textLength="14.21" lengthAdjust="spacingAndGlyphs" fill="#1e1e1e" stroke="#1e1e1e" stroke-width="0.06">NEC</text>
<path d="M56.00 372.38H62.00" stroke="#2c4b85" stroke-width="1.35"/>
<text x="64.90" y="374.59" font-size="7.0" textLength="39.47" lengthAdjust="spacingAndGlyphs" fill="#1e1e1e" stroke="#1e1e1e" stroke-width="0.06">SOCS1/SGK1</text>
<path d="M56.00 382.66H62.00" stroke="#62b53c" stroke-width="1.35"/>
<text x="64.90" y="384.87" font-size="7.0" textLength="33.58" lengthAdjust="spacingAndGlyphs" fill="#1e1e1e" stroke="#1e1e1e" stroke-width="0.06">TET2/SGK1</text>
<path d="M56.00 392.94H62.00" stroke="#4a1c6c" stroke-width="1.35"/>
<text x="64.90" y="395.15" font-size="7.0" textLength="22.23" lengthAdjust="spacingAndGlyphs" fill="#1e1e1e" stroke="#1e1e1e" stroke-width="0.06">MYD88</text>
<path d="M56.00 403.22H62.00" stroke="#e3900f" stroke-width="1.35"/>
<text x="64.90" y="405.43" font-size="7.0" textLength="16.05" lengthAdjust="spacingAndGlyphs" fill="#1e1e1e" stroke="#1e1e1e" stroke-width="0.06">BCL2</text>
<path d="M56.00 413.50H62.00" stroke="#c80a80" stroke-width="1.35"/>
<text x="64.90" y="415.71" font-size="7.0" textLength="27.41" lengthAdjust="spacingAndGlyphs" fill="#1e1e1e" stroke="#1e1e1e" stroke-width="0.06">NOTCH2</text>
<text x="33.03" y="461.21" font-size="7.0" textLength="14.37" lengthAdjust="spacingAndGlyphs" fill="#1e1e1e" stroke="#1e1e1e" stroke-width="0.06">NEC</text>
<text x="50.75" y="461.21" font-size="7.0" textLength="11.09" lengthAdjust="spacingAndGlyphs" fill="#1e1e1e" stroke="#1e1e1e" stroke-width="0.06">171</text>
<text x="79.40" y="461.21" font-size="7.0" textLength="10.60" lengthAdjust="spacingAndGlyphs" fill="#1e1e1e" stroke="#1e1e1e" stroke-width="0.06">119</text>
<text x="107.80" y="461.21" font-size="7.0" textLength="10.60" lengthAdjust="spacingAndGlyphs" fill="#1e1e1e" stroke="#1e1e1e" stroke-width="0.06">115</text>
<text x="136.20" y="461.21" font-size="7.0" textLength="10.60" lengthAdjust="spacingAndGlyphs" fill="#1e1e1e" stroke="#1e1e1e" stroke-width="0.06">110</text>
<text x="164.35" y="461.21" font-size="7.0" textLength="11.09" lengthAdjust="spacingAndGlyphs" fill="#1e1e1e" stroke="#1e1e1e" stroke-width="0.06">103</text>
<text x="194.60" y="461.21" font-size="7.0" textLength="7.40" lengthAdjust="spacingAndGlyphs" fill="#1e1e1e" stroke="#1e1e1e" stroke-width="0.06">98</text>
<text x="7.48" y="471.41" font-size="7.0" textLength="39.92" lengthAdjust="spacingAndGlyphs" fill="#1e1e1e" stroke="#1e1e1e" stroke-width="0.06">SOCS1/SGK1</text>
<text x="52.60" y="471.41" font-size="7.0" textLength="7.40" lengthAdjust="spacingAndGlyphs" fill="#1e1e1e" stroke="#1e1e1e" stroke-width="0.06">86</text>
<text x="81.00" y="471.41" font-size="7.0" textLength="7.40" lengthAdjust="spacingAndGlyphs" fill="#1e1e1e" stroke="#1e1e1e" stroke-width="0.06">66</text>
<text x="109.40" y="471.41" font-size="7.0" textLength="7.40" lengthAdjust="spacingAndGlyphs" fill="#1e1e1e" stroke="#1e1e1e" stroke-width="0.06">62</text>
<text x="137.80" y="471.41" font-size="7.0" textLength="7.40" lengthAdjust="spacingAndGlyphs" fill="#1e1e1e" stroke="#1e1e1e" stroke-width="0.06">60</text>
<text x="166.20" y="471.41" font-size="7.0" textLength="7.40" lengthAdjust="spacingAndGlyphs" fill="#1e1e1e" stroke="#1e1e1e" stroke-width="0.06">59</text>
<text x="194.60" y="471.41" font-size="7.0" textLength="7.40" lengthAdjust="spacingAndGlyphs" fill="#1e1e1e" stroke="#1e1e1e" stroke-width="0.06">57</text>
<text x="13.44" y="481.61" font-size="7.0" textLength="33.96" lengthAdjust="spacingAndGlyphs" fill="#1e1e1e" stroke="#1e1e1e" stroke-width="0.06">TET2/SGK1</text>
<text x="52.60" y="481.61" font-size="7.0" textLength="7.40" lengthAdjust="spacingAndGlyphs" fill="#1e1e1e" stroke="#1e1e1e" stroke-width="0.06">79</text>
<text x="81.00" y="481.61" font-size="7.0" textLength="7.40" lengthAdjust="spacingAndGlyphs" fill="#1e1e1e" stroke="#1e1e1e" stroke-width="0.06">64</text>
<text x="109.40" y="481.61" font-size="7.0" textLength="7.40" lengthAdjust="spacingAndGlyphs" fill="#1e1e1e" stroke="#1e1e1e" stroke-width="0.06">59</text>
<text x="137.80" y="481.61" font-size="7.0" textLength="7.40" lengthAdjust="spacingAndGlyphs" fill="#1e1e1e" stroke="#1e1e1e" stroke-width="0.06">55</text>
<text x="166.20" y="481.61" font-size="7.0" textLength="7.40" lengthAdjust="spacingAndGlyphs" fill="#1e1e1e" stroke="#1e1e1e" stroke-width="0.06">51</text>
<text x="194.60" y="481.61" font-size="7.0" textLength="7.40" lengthAdjust="spacingAndGlyphs" fill="#1e1e1e" stroke="#1e1e1e" stroke-width="0.06">50</text>
<text x="24.92" y="491.81" font-size="7.0" textLength="22.48" lengthAdjust="spacingAndGlyphs" fill="#1e1e1e" stroke="#1e1e1e" stroke-width="0.06">MYD88</text>
<text x="50.75" y="491.81" font-size="7.0" textLength="11.09" lengthAdjust="spacingAndGlyphs" fill="#1e1e1e" stroke="#1e1e1e" stroke-width="0.06">105</text>
<text x="81.00" y="491.81" font-size="7.0" textLength="7.40" lengthAdjust="spacingAndGlyphs" fill="#1e1e1e" stroke="#1e1e1e" stroke-width="0.06">70</text>
<text x="109.40" y="491.81" font-size="7.0" textLength="7.40" lengthAdjust="spacingAndGlyphs" fill="#1e1e1e" stroke="#1e1e1e" stroke-width="0.06">59</text>
<text x="137.80" y="491.81" font-size="7.0" textLength="7.40" lengthAdjust="spacingAndGlyphs" fill="#1e1e1e" stroke="#1e1e1e" stroke-width="0.06">51</text>
<text x="166.20" y="491.81" font-size="7.0" textLength="7.40" lengthAdjust="spacingAndGlyphs" fill="#1e1e1e" stroke="#1e1e1e" stroke-width="0.06">47</text>
<text x="194.60" y="491.81" font-size="7.0" textLength="7.40" lengthAdjust="spacingAndGlyphs" fill="#1e1e1e" stroke="#1e1e1e" stroke-width="0.06">45</text>
<text x="31.17" y="502.01" font-size="7.0" textLength="16.23" lengthAdjust="spacingAndGlyphs" fill="#1e1e1e" stroke="#1e1e1e" stroke-width="0.06">BCL2</text>
<text x="50.75" y="502.01" font-size="7.0" textLength="11.09" lengthAdjust="spacingAndGlyphs" fill="#1e1e1e" stroke="#1e1e1e" stroke-width="0.06">139</text>
<text x="79.15" y="502.01" font-size="7.0" textLength="11.09" lengthAdjust="spacingAndGlyphs" fill="#1e1e1e" stroke="#1e1e1e" stroke-width="0.06">107</text>
<text x="109.40" y="502.01" font-size="7.0" textLength="7.40" lengthAdjust="spacingAndGlyphs" fill="#1e1e1e" stroke="#1e1e1e" stroke-width="0.06">97</text>
<text x="137.80" y="502.01" font-size="7.0" textLength="7.40" lengthAdjust="spacingAndGlyphs" fill="#1e1e1e" stroke="#1e1e1e" stroke-width="0.06">91</text>
<text x="166.20" y="502.01" font-size="7.0" textLength="7.40" lengthAdjust="spacingAndGlyphs" fill="#1e1e1e" stroke="#1e1e1e" stroke-width="0.06">82</text>
<text x="194.60" y="502.01" font-size="7.0" textLength="7.40" lengthAdjust="spacingAndGlyphs" fill="#1e1e1e" stroke="#1e1e1e" stroke-width="0.06">77</text>
<text x="19.69" y="512.21" font-size="7.0" textLength="27.71" lengthAdjust="spacingAndGlyphs" fill="#1e1e1e" stroke="#1e1e1e" stroke-width="0.06">NOTCH2</text>
<text x="50.75" y="512.21" font-size="7.0" textLength="11.09" lengthAdjust="spacingAndGlyphs" fill="#1e1e1e" stroke="#1e1e1e" stroke-width="0.06">107</text>
<text x="81.00" y="512.21" font-size="7.0" textLength="7.40" lengthAdjust="spacingAndGlyphs" fill="#1e1e1e" stroke="#1e1e1e" stroke-width="0.06">73</text>
<text x="109.40" y="512.21" font-size="7.0" textLength="7.40" lengthAdjust="spacingAndGlyphs" fill="#1e1e1e" stroke="#1e1e1e" stroke-width="0.06">67</text>
<text x="137.80" y="512.21" font-size="7.0" textLength="7.40" lengthAdjust="spacingAndGlyphs" fill="#1e1e1e" stroke="#1e1e1e" stroke-width="0.06">61</text>
<text x="166.20" y="512.21" font-size="7.0" textLength="7.40" lengthAdjust="spacingAndGlyphs" fill="#1e1e1e" stroke="#1e1e1e" stroke-width="0.06">57</text>
<text x="194.60" y="512.21" font-size="7.0" textLength="7.40" lengthAdjust="spacingAndGlyphs" fill="#1e1e1e" stroke="#1e1e1e" stroke-width="0.06">52</text>
<path d="M56.6,299.1 H57.1 V301.4 H57.7 V303.7 H58.2 V306.0 L59.7,311.4 H62.4 V313.3 H65.1 V315.2 H66.4 V317.3 H67.6 V319.3 H68.9 V321.4 H70.5 V323.3 H72.0 V325.2 H75.1 V326.8 H76.2 V328.7 H77.4 V330.6 H79.7 V332.9 H82.0 V334.4 H84.3 V335.8 L92.6,335.8 L94.2,336.5 L100.3,336.5 L103.4,337.3 L109.5,338.1 L112.6,338.8 L121.8,339.6 L124.9,340.8 L134.2,341.5 L141.1,342.3 L142.6,343.5 L147.2,344.2 L151.1,345.0 L157.2,345.4 L161.8,346.2 L168.0,347.2 L180.3,348.1 L188.0,348.5 L190.3,349.6 L194.9,350.4 L200.3,351.2 L202.6,352.3 L205.7,352.3" fill="none" stroke="#ad0838" stroke-width="1.4" stroke-linejoin="round"/>
<path d="M56.6,299.1 H56.9 V301.2 H57.1 V303.2 H57.4 V305.2 H57.7 V307.3 H57.9 V309.3 H58.2 V311.4 L59.7,316.8 L62.8,316.8 L67.4,317.5 H70.5 V320.6 L73.5,319.8 H76.2 V321.0 H78.9 V322.2 H80.8 V323.7 H82.8 V325.2 H85.1 V326.8 L94.2,327.3 H96.5 V328.8 L103.4,329.2 L105.7,330.4 L108.8,331.2 H111.1 V332.7 L136.5,332.9 H139.5 V335.6 L146.5,335.6 L161.1,335.4 L162.2,336.9 L168.0,336.9 L188.0,337.3 L188.8,338.5 L205.7,338.5" fill="none" stroke="#2c4b85" stroke-width="1.4" stroke-linejoin="round"/>
<path d="M56.6,299.1 H57.1 V301.4 H57.7 V303.7 H58.2 V306.0 L59.7,308.3 L63.5,308.3 H65.8 V309.8 L66.6,316.0 H68.9 V317.5 H71.6 V318.3 H74.3 V319.1 H76.2 V320.2 H78.2 V321.4 L87.4,321.8 L88.9,323.1 L97.2,323.5 L98.4,326.5 L99.5,328.1 L115.7,328.1 L116.8,331.2 L121.8,331.5 L123.4,332.7 L135.7,332.7 L136.5,334.2 L147.2,334.6 H148.8 V336.2 L152.6,337.3 L154.2,338.8 L164.9,339.2 L166.5,340.8 L174.9,340.8 L175.7,342.2 L204.9,342.2 L205.7,343.3" fill="none" stroke="#62b53c" stroke-width="1.4" stroke-linejoin="round"/>
<path d="M56.6,299.1 L57.0,309.8 H58.0 V311.8 H58.9 V313.7 L59.7,318.3 H60.9 V320.6 H62.0 V322.9 H64.3 V325.2 H65.4 V327.1 H66.6 V329.1 H68.2 V331.0 H69.7 V332.9 L74.3,333.7 H76.2 V334.4 H78.2 V335.2 H81.2 V338.3 H83.2 V339.1 H85.1 V339.8 L88.0,340.0 H91.1 V342.3 H93.4 V344.2 H95.7 V345.8 H98.8 V348.5 L103.4,348.5 L105.7,349.6 H108.8 V351.9 L121.8,352.3 L123.4,353.5 L134.2,354.2 H137.2 V355.8 H139.5 V358.8 H141.5 V361.2 L156.5,361.2 H158.8 V362.7 H161.8 V364.6 L168.0,365.6 L171.1,365.8 L172.6,367.3 L194.2,367.3 L194.9,368.1 L199.5,368.5 L200.3,370.0 H202.6 V371.5 L205.7,371.9 L207.2,373.1" fill="none" stroke="#4a1c6c" stroke-width="1.4" stroke-linejoin="round"/>
<path d="M56.6,299.1 H57.1 V301.4 H57.7 V303.7 H58.2 V306.0 L59.7,309.1 H61.6 V310.2 H63.5 V311.4 H65.0 V313.7 H66.6 V316.0 H68.2 V318.7 H69.7 V321.4 H71.6 V322.9 H73.5 V324.5 L77.4,325.6 L84.3,326.8 H87.4 V328.3 L88.9,330.2 L93.4,330.4 H95.3 V331.1 H97.2 V331.9 H100.3 V334.6 L109.5,334.6 L111.1,335.4 L120.3,335.8 L122.6,336.5 L126.5,337.1 L137.2,337.2 H140.3 V339.6 H143.4 V341.5 L148.0,342.3 L153.4,343.5 L157.2,344.6 H160.3 V346.2 H162.2 V346.9 H164.2 V347.7 L168.0,348.6 L171.8,349.6 L188.8,349.6 L190.3,351.2 L194.2,351.9 L196.5,353.1 L202.6,353.1 L204.9,353.8 L205.7,354.5" fill="none" stroke="#e3900f" stroke-width="1.4" stroke-linejoin="round"/>
<path d="M56.2,299.1 L57.0,307.5 H58.0 V309.4 H58.9 V311.4 H62.0 V312.9 H63.1 V314.9 H64.3 V316.8 H65.4 V319.5 H66.6 V322.2 H67.8 V324.1 H68.9 V326.0 H70.8 V327.6 H72.8 V329.1 H75.1 V332.2 H77.0 V332.9 H78.9 V333.7 L82.8,334.5 H85.1 V336.8 L94.2,337.3 H97.2 V339.2 L99.5,340.0 L103.4,341.2 L109.5,342.3 L113.4,343.5 H115.3 V344.9 H117.2 V346.2 L121.8,346.9 L123.4,348.0 L130.3,348.8 L137.2,349.2 L138.8,350.0 L151.1,350.0 H153.4 V351.5 L158.8,352.3 L160.3,354.6 L172.6,354.6 L174.2,355.8 L176.5,356.5 H178.4 V359.2 L207.5,359.2" fill="none" stroke="#c80a80" stroke-width="1.4" stroke-linejoin="round"/>
<text x="268.30" y="274.90" font-size="11.6" font-weight="bold" fill="#000" stroke="#000" stroke-width="0.35">D</text>
<text x="313.70" y="288.05" font-size="8.0" textLength="149.20" lengthAdjust="spacingAndGlyphs" fill="#1e1e1e" stroke="#1e1e1e" stroke-width="0.06">DLBCL NOS treated with R-CHOP (N=579)</text>
<g transform="translate(284.60,359.25) rotate(-90)">
<text x="-43.75" y="3.03" font-size="8.8" textLength="87.50" lengthAdjust="spacingAndGlyphs" fill="#262626">Progression-free survival (%)</text>
</g>
<path d="M310.30 293.20V425.70H466.80" fill="none" stroke="#2a2a2a" stroke-width="1.35"/>
<text x="300.21" y="421.84" font-size="6.8" textLength="3.59" lengthAdjust="spacingAndGlyphs" fill="#1e1e1e" stroke="#1e1e1e" stroke-width="0.06">0</text>
<text x="296.62" y="397.74" font-size="6.8" textLength="7.18" lengthAdjust="spacingAndGlyphs" fill="#1e1e1e" stroke="#1e1e1e" stroke-width="0.06">20</text>
<text x="296.62" y="373.64" font-size="6.8" textLength="7.18" lengthAdjust="spacingAndGlyphs" fill="#1e1e1e" stroke="#1e1e1e" stroke-width="0.06">40</text>
<text x="296.62" y="349.54" font-size="6.8" textLength="7.18" lengthAdjust="spacingAndGlyphs" fill="#1e1e1e" stroke="#1e1e1e" stroke-width="0.06">60</text>
<text x="296.62" y="325.44" font-size="6.8" textLength="7.18" lengthAdjust="spacingAndGlyphs" fill="#1e1e1e" stroke="#1e1e1e" stroke-width="0.06">80</text>
<text x="293.02" y="301.34" font-size="6.8" textLength="10.78" lengthAdjust="spacingAndGlyphs" fill="#1e1e1e" stroke="#1e1e1e" stroke-width="0.06">100</text>
<text x="315.41" y="437.84" font-size="6.8" textLength="3.78" lengthAdjust="spacingAndGlyphs" fill="#1e1e1e" stroke="#1e1e1e" stroke-width="0.06">0</text>
<text x="343.81" y="437.84" font-size="6.8" textLength="3.78" lengthAdjust="spacingAndGlyphs" fill="#1e1e1e" stroke="#1e1e1e" stroke-width="0.06">1</text>
<text x="372.21" y="437.84" font-size="6.8" textLength="3.78" lengthAdjust="spacingAndGlyphs" fill="#1e1e1e" stroke="#1e1e1e" stroke-width="0.06">2</text>
<text x="400.61" y="437.84" font-size="6.8" textLength="3.78" lengthAdjust="spacingAndGlyphs" fill="#1e1e1e" stroke="#1e1e1e" stroke-width="0.06">3</text>
<text x="429.01" y="437.84" font-size="6.8" textLength="3.78" lengthAdjust="spacingAndGlyphs" fill="#1e1e1e" stroke="#1e1e1e" stroke-width="0.06">4</text>
<text x="457.41" y="437.84" font-size="6.8" textLength="3.78" lengthAdjust="spacingAndGlyphs" fill="#1e1e1e" stroke="#1e1e1e" stroke-width="0.06">5</text>
<path d="M307.00 419.50H310.30M307.00 395.40H310.30M307.00 371.30H310.30M307.00 347.20H310.30M307.00 323.10H310.30M307.00 299.00H310.30M317.30 425.70V429.00M345.70 425.70V429.00M374.10 425.70V429.00M402.50 425.70V429.00M430.90 425.70V429.00M459.30 425.70V429.00" stroke="#2a2a2a" stroke-width="1.2"/>
<text x="380.50" y="449.93" font-size="8.8" textLength="15.60" lengthAdjust="spacingAndGlyphs" fill="#1e1e1e" stroke="#1e1e1e" stroke-width="0.06">Years</text>
<path d="M317.00 361.20H323.00" stroke="#ad0838" stroke-width="1.35"/>
<text x="325.90" y="363.41" font-size="7.0" textLength="14.21" lengthAdjust="spacingAndGlyphs" fill="#1e1e1e" stroke="#1e1e1e" stroke-width="0.06">NEC</text>
<path d="M317.00 371.48H323.00" stroke="#2c4b85" stroke-width="1.35"/>
<text x="325.90" y="373.69" font-size="7.0" textLength="39.47" lengthAdjust="spacingAndGlyphs" fill="#1e1e1e" stroke="#1e1e1e" stroke-width="0.06">SOCS1/SGK1</text>
<path d="M317.00 381.76H323.00" stroke="#62b53c" stroke-width="1.35"/>
<text x="325.90" y="383.97" font-size="7.0" textLength="33.58" lengthAdjust="spacingAndGlyphs" fill="#1e1e1e" stroke="#1e1e1e" stroke-width="0.06">TET2/SGK1</text>
<path d="M317.00 392.04H323.00" stroke="#4a1c6c" stroke-width="1.35"/>
<text x="325.90" y="394.25" font-size="7.0" textLength="22.23" lengthAdjust="spacingAndGlyphs" fill="#1e1e1e" stroke="#1e1e1e" stroke-width="0.06">MYD88</text>
<path d="M317.00 402.32H323.00" stroke="#e3900f" stroke-width="1.35"/>
<text x="325.90" y="404.53" font-size="7.0" textLength="16.05" lengthAdjust="spacingAndGlyphs" fill="#1e1e1e" stroke="#1e1e1e" stroke-width="0.06">BCL2</text>
<path d="M317.00 412.60H323.00" stroke="#c80a80" stroke-width="1.35"/>
<text x="325.90" y="414.81" font-size="7.0" textLength="27.41" lengthAdjust="spacingAndGlyphs" fill="#1e1e1e" stroke="#1e1e1e" stroke-width="0.06">NOTCH2</text>
<text x="294.03" y="461.21" font-size="7.0" textLength="14.37" lengthAdjust="spacingAndGlyphs" fill="#1e1e1e" stroke="#1e1e1e" stroke-width="0.06">NEC</text>
<text x="311.75" y="461.21" font-size="7.0" textLength="11.09" lengthAdjust="spacingAndGlyphs" fill="#1e1e1e" stroke="#1e1e1e" stroke-width="0.06">146</text>
<text x="340.15" y="461.21" font-size="7.0" textLength="11.09" lengthAdjust="spacingAndGlyphs" fill="#1e1e1e" stroke="#1e1e1e" stroke-width="0.06">108</text>
<text x="368.55" y="461.21" font-size="7.0" textLength="11.09" lengthAdjust="spacingAndGlyphs" fill="#1e1e1e" stroke="#1e1e1e" stroke-width="0.06">105</text>
<text x="396.95" y="461.21" font-size="7.0" textLength="11.09" lengthAdjust="spacingAndGlyphs" fill="#1e1e1e" stroke="#1e1e1e" stroke-width="0.06">101</text>
<text x="427.20" y="461.21" font-size="7.0" textLength="7.40" lengthAdjust="spacingAndGlyphs" fill="#1e1e1e" stroke="#1e1e1e" stroke-width="0.06">95</text>
<text x="455.60" y="461.21" font-size="7.0" textLength="7.40" lengthAdjust="spacingAndGlyphs" fill="#1e1e1e" stroke="#1e1e1e" stroke-width="0.06">90</text>
<text x="268.48" y="471.41" font-size="7.0" textLength="39.92" lengthAdjust="spacingAndGlyphs" fill="#1e1e1e" stroke="#1e1e1e" stroke-width="0.06">SOCS1/SGK1</text>
<text x="313.60" y="471.41" font-size="7.0" textLength="7.40" lengthAdjust="spacingAndGlyphs" fill="#1e1e1e" stroke="#1e1e1e" stroke-width="0.06">71</text>
<text x="342.00" y="471.41" font-size="7.0" textLength="7.40" lengthAdjust="spacingAndGlyphs" fill="#1e1e1e" stroke="#1e1e1e" stroke-width="0.06">58</text>
<text x="370.40" y="471.41" font-size="7.0" textLength="7.40" lengthAdjust="spacingAndGlyphs" fill="#1e1e1e" stroke="#1e1e1e" stroke-width="0.06">57</text>
<text x="398.80" y="471.41" font-size="7.0" textLength="7.40" lengthAdjust="spacingAndGlyphs" fill="#1e1e1e" stroke="#1e1e1e" stroke-width="0.06">56</text>
<text x="427.20" y="471.41" font-size="7.0" textLength="7.40" lengthAdjust="spacingAndGlyphs" fill="#1e1e1e" stroke="#1e1e1e" stroke-width="0.06">56</text>
<text x="455.60" y="471.41" font-size="7.0" textLength="7.40" lengthAdjust="spacingAndGlyphs" fill="#1e1e1e" stroke="#1e1e1e" stroke-width="0.06">54</text>
<text x="274.44" y="481.61" font-size="7.0" textLength="33.96" lengthAdjust="spacingAndGlyphs" fill="#1e1e1e" stroke="#1e1e1e" stroke-width="0.06">TET2/SGK1</text>
<text x="313.60" y="481.61" font-size="7.0" textLength="7.40" lengthAdjust="spacingAndGlyphs" fill="#1e1e1e" stroke="#1e1e1e" stroke-width="0.06">64</text>
<text x="342.00" y="481.61" font-size="7.0" textLength="7.40" lengthAdjust="spacingAndGlyphs" fill="#1e1e1e" stroke="#1e1e1e" stroke-width="0.06">57</text>
<text x="370.40" y="481.61" font-size="7.0" textLength="7.40" lengthAdjust="spacingAndGlyphs" fill="#1e1e1e" stroke="#1e1e1e" stroke-width="0.06">52</text>
<text x="398.80" y="481.61" font-size="7.0" textLength="7.40" lengthAdjust="spacingAndGlyphs" fill="#1e1e1e" stroke="#1e1e1e" stroke-width="0.06">48</text>
<text x="427.20" y="481.61" font-size="7.0" textLength="7.40" lengthAdjust="spacingAndGlyphs" fill="#1e1e1e" stroke="#1e1e1e" stroke-width="0.06">45</text>
<text x="455.60" y="481.61" font-size="7.0" textLength="7.40" lengthAdjust="spacingAndGlyphs" fill="#1e1e1e" stroke="#1e1e1e" stroke-width="0.06">44</text>
<text x="285.92" y="491.81" font-size="7.0" textLength="22.48" lengthAdjust="spacingAndGlyphs" fill="#1e1e1e" stroke="#1e1e1e" stroke-width="0.06">MYD88</text>
<text x="313.60" y="491.81" font-size="7.0" textLength="7.40" lengthAdjust="spacingAndGlyphs" fill="#1e1e1e" stroke="#1e1e1e" stroke-width="0.06">78</text>
<text x="342.00" y="491.81" font-size="7.0" textLength="7.40" lengthAdjust="spacingAndGlyphs" fill="#1e1e1e" stroke="#1e1e1e" stroke-width="0.06">60</text>
<text x="370.40" y="491.81" font-size="7.0" textLength="7.40" lengthAdjust="spacingAndGlyphs" fill="#1e1e1e" stroke="#1e1e1e" stroke-width="0.06">52</text>
<text x="398.80" y="491.81" font-size="7.0" textLength="7.40" lengthAdjust="spacingAndGlyphs" fill="#1e1e1e" stroke="#1e1e1e" stroke-width="0.06">47</text>
<text x="427.20" y="491.81" font-size="7.0" textLength="7.40" lengthAdjust="spacingAndGlyphs" fill="#1e1e1e" stroke="#1e1e1e" stroke-width="0.06">44</text>
<text x="455.60" y="491.81" font-size="7.0" textLength="7.40" lengthAdjust="spacingAndGlyphs" fill="#1e1e1e" stroke="#1e1e1e" stroke-width="0.06">42</text>
<text x="292.17" y="502.01" font-size="7.0" textLength="16.23" lengthAdjust="spacingAndGlyphs" fill="#1e1e1e" stroke="#1e1e1e" stroke-width="0.06">BCL2</text>
<text x="311.75" y="502.01" font-size="7.0" textLength="11.09" lengthAdjust="spacingAndGlyphs" fill="#1e1e1e" stroke="#1e1e1e" stroke-width="0.06">128</text>
<text x="340.15" y="502.01" font-size="7.0" textLength="11.09" lengthAdjust="spacingAndGlyphs" fill="#1e1e1e" stroke="#1e1e1e" stroke-width="0.06">100</text>
<text x="370.40" y="502.01" font-size="7.0" textLength="7.40" lengthAdjust="spacingAndGlyphs" fill="#1e1e1e" stroke="#1e1e1e" stroke-width="0.06">93</text>
<text x="398.80" y="502.01" font-size="7.0" textLength="7.40" lengthAdjust="spacingAndGlyphs" fill="#1e1e1e" stroke="#1e1e1e" stroke-width="0.06">87</text>
<text x="427.20" y="502.01" font-size="7.0" textLength="7.40" lengthAdjust="spacingAndGlyphs" fill="#1e1e1e" stroke="#1e1e1e" stroke-width="0.06">78</text>
<text x="455.60" y="502.01" font-size="7.0" textLength="7.40" lengthAdjust="spacingAndGlyphs" fill="#1e1e1e" stroke="#1e1e1e" stroke-width="0.06">73</text>
<text x="280.69" y="512.21" font-size="7.0" textLength="27.71" lengthAdjust="spacingAndGlyphs" fill="#1e1e1e" stroke="#1e1e1e" stroke-width="0.06">NOTCH2</text>
<text x="313.60" y="512.21" font-size="7.0" textLength="7.40" lengthAdjust="spacingAndGlyphs" fill="#1e1e1e" stroke="#1e1e1e" stroke-width="0.06">92</text>
<text x="342.00" y="512.21" font-size="7.0" textLength="7.40" lengthAdjust="spacingAndGlyphs" fill="#1e1e1e" stroke="#1e1e1e" stroke-width="0.06">65</text>
<text x="370.40" y="512.21" font-size="7.0" textLength="7.40" lengthAdjust="spacingAndGlyphs" fill="#1e1e1e" stroke="#1e1e1e" stroke-width="0.06">59</text>
<text x="398.80" y="512.21" font-size="7.0" textLength="7.40" lengthAdjust="spacingAndGlyphs" fill="#1e1e1e" stroke="#1e1e1e" stroke-width="0.06">54</text>
<text x="427.20" y="512.21" font-size="7.0" textLength="7.40" lengthAdjust="spacingAndGlyphs" fill="#1e1e1e" stroke="#1e1e1e" stroke-width="0.06">51</text>
<text x="455.60" y="512.21" font-size="7.0" textLength="7.40" lengthAdjust="spacingAndGlyphs" fill="#1e1e1e" stroke="#1e1e1e" stroke-width="0.06">46</text>
<path d="M317.6,299.1 L319.2,304.5 H322.2 V306.4 H325.3 V308.3 H327.6 V311.4 H328.8 V313.7 H329.9 V316.0 H332.2 V318.3 H334.1 V319.9 H336.1 V321.4 H337.6 V323.7 H339.2 V326.0 H342.2 V329.1 H345.3 V330.5 L355.7,331.5 L364.9,331.5 L367.2,332.7 L374.2,333.8 L380.3,334.2 L383.4,335.4 L388.0,335.8 L391.1,336.2 L399.5,336.2 L403.4,336.9 L408.0,338.1 L414.2,338.8 L418.8,339.2 L422.6,340.0 H425.3 V340.6 H428.0 V341.3 L433.4,341.4 L434.9,342.5 L441.1,342.5 L442.6,343.3 L449.5,343.3 L451.1,344.1 L454.2,344.5 L455.7,345.2 L460.3,345.6 H462.6 V347.2 L466.5,347.2" fill="none" stroke="#ad0838" stroke-width="1.4" stroke-linejoin="round"/>
<path d="M317.6,299.1 L317.6,307.5 L319.2,309.8 L321.5,311.0 L326.1,311.0 L328.4,312.2 H330.7 V313.7 H333.4 V314.4 H336.1 V315.2 H338.8 V316.0 H341.5 V316.8 H343.8 V319.1 L345.3,321.1 L371.1,321.2 L371.8,322.9 L400.3,323.1 L401.5,324.7 L449.2,324.8 L449.9,326.4 L466.5,326.4" fill="none" stroke="#2c4b85" stroke-width="1.4" stroke-linejoin="round"/>
<path d="M317.6,299.1 L319.2,301.0 L326.8,301.0 L327.6,306.0 L329.9,306.8 H332.2 V308.3 L335.3,308.7 L336.1,310.2 L338.4,311.0 L339.9,312.2 L348.4,312.5 L348.8,313.8 L358.0,314.2 L358.8,317.7 L360.3,320.0 L376.5,320.0 L377.6,323.1 L383.4,323.5 L384.2,325.4 L395.7,325.8 L396.5,327.5 L407.2,327.7 L408.4,329.2 L410.3,330.0 L411.1,331.2 L414.2,331.5 L414.9,333.1 L436.5,333.3 L437.2,335.2 L466.5,335.2" fill="none" stroke="#62b53c" stroke-width="1.4" stroke-linejoin="round"/>
<path d="M317.2,299.1 L317.2,306.8 H319.2 V309.8 L322.2,310.6 H323.8 V312.9 H325.3 V315.2 H328.4 V318.3 H331.5 V320.6 H333.8 V321.4 H336.1 V322.2 H338.4 V322.9 H340.7 V323.7 H343.8 V326.8 H345.7 V327.7 H347.6 V328.7 H349.5 V329.6 L351.8,330.4 L353.4,333.1 L358.8,333.5 L360.3,335.0 L364.9,335.0 L366.5,336.2 L369.5,336.9 H371.1 V338.8 L388.0,339.2 L390.3,339.6 L392.6,340.8 L395.7,341.2 L397.2,342.7 L401.1,343.8 L402.2,346.5 L418.0,346.9 H420.3 V348.5 H422.6 V350.4 L428.0,351.5 H430.1 V352.2 H432.2 V352.9 L438.0,353.7 L454.9,353.7 L455.7,354.8 L460.3,354.8 L461.1,357.9 L466.5,357.9" fill="none" stroke="#4a1c6c" stroke-width="1.4" stroke-linejoin="round"/>
<path d="M317.6,299.1 L319.2,303.7 H321.5 V306.8 H323.0 V309.1 H324.5 V311.4 H326.1 V314.1 H327.6 V316.8 H328.8 V318.7 H329.9 V320.6 H331.9 V321.8 H333.8 V322.9 L337.6,324.1 L343.0,325.2 H344.9 V326.0 H346.8 V326.8 H349.5 V328.1 L354.9,328.5 H358.0 V330.8 H360.3 V332.3 L380.3,332.3 H382.6 V333.8 L386.5,334.2 L398.0,334.0 H400.3 V335.4 H403.4 V337.7 L406.5,338.8 L411.1,339.6 L417.2,340.4 H420.3 V341.9 L421.8,344.2 L424.9,345.4 L428.0,346.4 L431.8,346.4 L433.4,347.5 L449.5,347.5 H451.1 V349.1 L454.2,349.8 H457.2 V351.4 L464.9,351.4 L466.1,352.2" fill="none" stroke="#e3900f" stroke-width="1.4" stroke-linejoin="round"/>
<path d="M317.2,298.9 L318.4,305.2 H319.9 V307.1 H321.5 V309.1 H323.0 V311.4 H324.5 V313.7 H325.6 V316.4 H326.8 V319.1 H328.0 V321.0 H329.2 V322.9 H331.5 V324.5 H333.8 V326.0 H336.1 V327.5 H339.2 V329.8 H342.2 V331.4 H344.5 V334.5 L355.7,334.6 H358.0 V336.5 L363.4,337.7 L367.2,338.8 H370.3 V340.4 H372.6 V340.9 H374.9 V341.4 H377.2 V341.9 H378.8 V343.8 L388.0,344.8 L391.1,345.4 L391.8,346.5 L398.0,346.9 L399.5,348.1 L414.2,348.1 L415.7,349.2 L418.8,349.2 L420.3,351.5 L428.0,351.8 L432.6,351.8 L434.2,352.9 L437.2,353.7 H438.0 V355.6 H438.8 V357.5 L466.5,357.5" fill="none" stroke="#c80a80" stroke-width="1.4" stroke-linejoin="round"/>
<text x="7.30" y="534.00" font-size="11.8" font-weight="bold" fill="#000" stroke="#000" stroke-width="0.35">E</text>
<text x="115.00" y="567.67" font-size="6.6" textLength="74.50" lengthAdjust="spacingAndGlyphs" font-weight="bold" fill="#000" stroke="#000" stroke-width="0.06">N Hazard ratio (95% CI)</text>
<text x="178.16" y="578.37" font-size="6.6" textLength="8.72" lengthAdjust="spacingAndGlyphs" fill="#1e1e1e" stroke="#1e1e1e" stroke-width="0.06">0.3</text>
<text x="212.04" y="578.37" font-size="6.6" textLength="8.72" lengthAdjust="spacingAndGlyphs" fill="#1e1e1e" stroke="#1e1e1e" stroke-width="0.06">1.0</text>
<text x="242.96" y="578.37" font-size="6.6" textLength="8.72" lengthAdjust="spacingAndGlyphs" fill="#1e1e1e" stroke="#1e1e1e" stroke-width="0.06">3.0</text>
<path d="M179.50 585.60H250.50M182.52 582.60V585.60M216.40 582.60V585.60M247.32 582.60V585.60" stroke="#111" stroke-width="1.4" fill="none"/>
<text x="36.70" y="589.80" font-size="6.7" textLength="14.21" lengthAdjust="spacingAndGlyphs" fill="#1e1e1e" stroke="#1e1e1e" stroke-width="0.06">NEC</text>
<text x="91.50" y="589.80" font-size="6.7" textLength="10.40" lengthAdjust="spacingAndGlyphs" fill="#1e1e1e" stroke="#1e1e1e" stroke-width="0.06">146</text>
<text x="137.85" y="589.94" font-size="7.1" textLength="29.15" lengthAdjust="spacingAndGlyphs" fill="#1e1e1e" stroke="#1e1e1e" stroke-width="0.06">Reference</text>
<text x="36.70" y="600.10" font-size="6.7" textLength="39.48" lengthAdjust="spacingAndGlyphs" fill="#1e1e1e" stroke="#1e1e1e" stroke-width="0.06">SOCS1/SGK1</text>
<text x="93.23" y="600.10" font-size="6.7" textLength="6.93" lengthAdjust="spacingAndGlyphs" fill="#1e1e1e" stroke="#1e1e1e" stroke-width="0.06">71</text>
<text x="117.44" y="600.24" font-size="7.1" textLength="49.56" lengthAdjust="spacingAndGlyphs" fill="#1e1e1e" stroke="#1e1e1e" stroke-width="0.06">0.41 (0.25 - 0.69)</text>
<path d="M177.39 598.10H205.96" stroke="#858585" stroke-width="1.6"/>
<text x="36.70" y="610.40" font-size="6.7" textLength="33.59" lengthAdjust="spacingAndGlyphs" fill="#1e1e1e" stroke="#1e1e1e" stroke-width="0.06">TET2/SGK1</text>
<text x="93.23" y="610.40" font-size="6.7" textLength="6.93" lengthAdjust="spacingAndGlyphs" fill="#1e1e1e" stroke="#1e1e1e" stroke-width="0.06">64</text>
<text x="117.44" y="610.54" font-size="7.1" textLength="49.56" lengthAdjust="spacingAndGlyphs" fill="#1e1e1e" stroke="#1e1e1e" stroke-width="0.06">0.72 (0.46 - 1.13)</text>
<path d="M194.55 608.40H219.84" stroke="#858585" stroke-width="1.6"/>
<text x="36.70" y="620.70" font-size="6.7" textLength="22.23" lengthAdjust="spacingAndGlyphs" fill="#1e1e1e" stroke="#1e1e1e" stroke-width="0.06">MYD88</text>
<text x="93.23" y="620.70" font-size="6.7" textLength="6.93" lengthAdjust="spacingAndGlyphs" fill="#1e1e1e" stroke="#1e1e1e" stroke-width="0.06">78</text>
<text x="117.44" y="620.84" font-size="7.1" textLength="49.56" lengthAdjust="spacingAndGlyphs" fill="#1e1e1e" stroke="#1e1e1e" stroke-width="0.06">1.24 (0.86 - 1.77)</text>
<path d="M212.16 618.70H232.47" stroke="#858585" stroke-width="1.6"/>
<text x="36.70" y="631.00" font-size="6.7" textLength="16.05" lengthAdjust="spacingAndGlyphs" fill="#1e1e1e" stroke="#1e1e1e" stroke-width="0.06">BCL2</text>
<text x="91.50" y="631.00" font-size="6.7" textLength="10.40" lengthAdjust="spacingAndGlyphs" fill="#1e1e1e" stroke="#1e1e1e" stroke-width="0.06">128</text>
<text x="117.44" y="631.14" font-size="7.1" textLength="49.56" lengthAdjust="spacingAndGlyphs" fill="#1e1e1e" stroke="#1e1e1e" stroke-width="0.06">0.80 (0.57 - 1.12)</text>
<path d="M200.58 629.00H219.59" stroke="#858585" stroke-width="1.6"/>
<text x="36.70" y="641.30" font-size="6.7" textLength="27.41" lengthAdjust="spacingAndGlyphs" fill="#1e1e1e" stroke="#1e1e1e" stroke-width="0.06">NOTCH2</text>
<text x="93.23" y="641.30" font-size="6.7" textLength="6.93" lengthAdjust="spacingAndGlyphs" fill="#1e1e1e" stroke="#1e1e1e" stroke-width="0.06">92</text>
<text x="117.44" y="641.44" font-size="7.1" textLength="49.56" lengthAdjust="spacingAndGlyphs" fill="#1e1e1e" stroke="#1e1e1e" stroke-width="0.06">1.15 (0.81 - 1.64)</text>
<path d="M210.47 639.30H230.32" stroke="#858585" stroke-width="1.6"/>
<path d="M216.40 587.80V649.90" stroke="#111" stroke-width="1.4" stroke-dasharray="1.90 1.86"/>
<circle cx="216.40" cy="587.90" r="1.25" fill="#a3002d"/>
<circle cx="191.31" cy="598.10" r="1.25" fill="#a3002d"/>
<circle cx="207.16" cy="608.40" r="1.25" fill="#a3002d"/>
<circle cx="222.45" cy="618.70" r="1.25" fill="#a3002d"/>
<circle cx="210.12" cy="629.00" r="1.25" fill="#a3002d"/>
<circle cx="220.33" cy="639.30" r="1.25" fill="#a3002d"/>
<text x="7.98" y="606.17" font-size="6.9" textLength="24.04" lengthAdjust="spacingAndGlyphs" font-weight="bold" fill="#000" stroke="#000" stroke-width="0.06">Genetic</text>
<text x="7.07" y="613.77" font-size="6.9" textLength="25.86" lengthAdjust="spacingAndGlyphs" font-weight="bold" fill="#000" stroke="#000" stroke-width="0.06">Subtype</text>
<text x="268.30" y="534.00" font-size="11.8" font-weight="bold" fill="#000" stroke="#000" stroke-width="0.35">F</text>
<text x="364.50" y="545.67" font-size="6.6" textLength="74.50" lengthAdjust="spacingAndGlyphs" font-weight="bold" fill="#000" stroke="#000" stroke-width="0.06">N Hazard ratio (95% CI)</text>
<rect x="268" y="631.2" width="244.9" height="46.5" fill="#d9d9d9"/>
<text x="437.06" y="556.37" font-size="6.6" textLength="8.72" lengthAdjust="spacingAndGlyphs" fill="#1e1e1e" stroke="#1e1e1e" stroke-width="0.06">0.3</text>
<text x="463.04" y="556.37" font-size="6.6" textLength="8.72" lengthAdjust="spacingAndGlyphs" fill="#1e1e1e" stroke="#1e1e1e" stroke-width="0.06">1.0</text>
<text x="486.76" y="556.37" font-size="6.6" textLength="8.72" lengthAdjust="spacingAndGlyphs" fill="#1e1e1e" stroke="#1e1e1e" stroke-width="0.06">3.0</text>
<path d="M438.10 563.60H494.60M441.41 560.60V563.60M467.40 560.60V563.60M491.11 560.60V563.60" stroke="#111" stroke-width="1.4" fill="none"/>
<text x="297.50" y="569.30" font-size="6.7" textLength="14.21" lengthAdjust="spacingAndGlyphs" fill="#1e1e1e" stroke="#1e1e1e" stroke-width="0.06">NEC</text>
<text x="358.30" y="569.30" font-size="6.7" textLength="10.40" lengthAdjust="spacingAndGlyphs" fill="#1e1e1e" stroke="#1e1e1e" stroke-width="0.06">124</text>
<text x="397.65" y="569.44" font-size="7.1" textLength="29.15" lengthAdjust="spacingAndGlyphs" fill="#1e1e1e" stroke="#1e1e1e" stroke-width="0.06">Reference</text>
<text x="297.50" y="579.56" font-size="6.7" textLength="39.48" lengthAdjust="spacingAndGlyphs" fill="#1e1e1e" stroke="#1e1e1e" stroke-width="0.06">SOCS1/SGK1</text>
<text x="360.03" y="579.56" font-size="6.7" textLength="6.93" lengthAdjust="spacingAndGlyphs" fill="#1e1e1e" stroke="#1e1e1e" stroke-width="0.06">57</text>
<text x="377.24" y="579.70" font-size="7.1" textLength="49.56" lengthAdjust="spacingAndGlyphs" fill="#1e1e1e" stroke="#1e1e1e" stroke-width="0.06">0.42 (0.23 - 0.75)</text>
<path d="M435.68 577.56H461.19" stroke="#858585" stroke-width="1.6"/>
<text x="297.50" y="589.82" font-size="6.7" textLength="33.59" lengthAdjust="spacingAndGlyphs" fill="#1e1e1e" stroke="#1e1e1e" stroke-width="0.06">TET2/SGK1</text>
<text x="360.03" y="589.82" font-size="6.7" textLength="6.93" lengthAdjust="spacingAndGlyphs" fill="#1e1e1e" stroke="#1e1e1e" stroke-width="0.06">53</text>
<text x="377.24" y="589.96" font-size="7.1" textLength="49.56" lengthAdjust="spacingAndGlyphs" fill="#1e1e1e" stroke="#1e1e1e" stroke-width="0.06">0.65 (0.39 - 1.06)</text>
<path d="M447.08 587.82H468.66" stroke="#858585" stroke-width="1.6"/>
<text x="297.50" y="600.08" font-size="6.7" textLength="22.23" lengthAdjust="spacingAndGlyphs" fill="#1e1e1e" stroke="#1e1e1e" stroke-width="0.06">MYD88</text>
<text x="360.03" y="600.08" font-size="6.7" textLength="6.93" lengthAdjust="spacingAndGlyphs" fill="#1e1e1e" stroke="#1e1e1e" stroke-width="0.06">67</text>
<text x="377.24" y="600.22" font-size="7.1" textLength="49.56" lengthAdjust="spacingAndGlyphs" fill="#1e1e1e" stroke="#1e1e1e" stroke-width="0.06">1.26 (0.84 - 1.87)</text>
<path d="M463.64 598.08H480.91" stroke="#858585" stroke-width="1.6"/>
<text x="297.50" y="610.34" font-size="6.7" textLength="16.05" lengthAdjust="spacingAndGlyphs" fill="#1e1e1e" stroke="#1e1e1e" stroke-width="0.06">BCL2</text>
<text x="360.03" y="610.34" font-size="6.7" textLength="6.93" lengthAdjust="spacingAndGlyphs" fill="#1e1e1e" stroke="#1e1e1e" stroke-width="0.06">99</text>
<text x="377.24" y="610.48" font-size="7.1" textLength="49.56" lengthAdjust="spacingAndGlyphs" fill="#1e1e1e" stroke="#1e1e1e" stroke-width="0.06">0.66 (0.45 - 0.98)</text>
<path d="M450.16 608.34H466.96" stroke="#858585" stroke-width="1.6"/>
<text x="297.50" y="620.60" font-size="6.7" textLength="27.41" lengthAdjust="spacingAndGlyphs" fill="#1e1e1e" stroke="#1e1e1e" stroke-width="0.06">NOTCH2</text>
<text x="360.03" y="620.60" font-size="6.7" textLength="6.93" lengthAdjust="spacingAndGlyphs" fill="#1e1e1e" stroke="#1e1e1e" stroke-width="0.06">71</text>
<text x="377.24" y="620.74" font-size="7.1" textLength="49.56" lengthAdjust="spacingAndGlyphs" fill="#1e1e1e" stroke="#1e1e1e" stroke-width="0.06">0.87 (0.58 - 1.31)</text>
<path d="M455.64 618.60H473.23" stroke="#858585" stroke-width="1.6"/>
<text x="297.50" y="637.60" font-size="6.7" textLength="12.46" lengthAdjust="spacingAndGlyphs" fill="#1e1e1e" stroke="#1e1e1e" stroke-width="0.06">Low</text>
<text x="358.30" y="637.60" font-size="6.7" textLength="10.40" lengthAdjust="spacingAndGlyphs" fill="#1e1e1e" stroke="#1e1e1e" stroke-width="0.06">169</text>
<text x="397.65" y="637.74" font-size="7.1" textLength="29.15" lengthAdjust="spacingAndGlyphs" fill="#1e1e1e" stroke="#1e1e1e" stroke-width="0.06">Reference</text>
<text x="297.50" y="647.60" font-size="6.7" textLength="53.05" lengthAdjust="spacingAndGlyphs" fill="#1e1e1e" stroke="#1e1e1e" stroke-width="0.06">Low/Intermediate</text>
<text x="358.53" y="647.60" font-size="6.7" textLength="9.93" lengthAdjust="spacingAndGlyphs" fill="#1e1e1e" stroke="#1e1e1e" stroke-width="0.06">110</text>
<text x="377.24" y="647.74" font-size="7.1" textLength="49.56" lengthAdjust="spacingAndGlyphs" fill="#1e1e1e" stroke="#1e1e1e" stroke-width="0.06">2.05 (1.39 - 3.01)</text>
<path d="M474.51 645.60H491.18" stroke="#858585" stroke-width="1.6"/>
<text x="297.50" y="657.90" font-size="6.7" textLength="54.10" lengthAdjust="spacingAndGlyphs" fill="#1e1e1e" stroke="#1e1e1e" stroke-width="0.06">Intermediate/High</text>
<text x="358.53" y="657.90" font-size="6.7" textLength="9.93" lengthAdjust="spacingAndGlyphs" fill="#1e1e1e" stroke="#1e1e1e" stroke-width="0.06">114</text>
<text x="377.24" y="658.04" font-size="7.1" textLength="49.56" lengthAdjust="spacingAndGlyphs" fill="#1e1e1e" stroke="#1e1e1e" stroke-width="0.06">2.41 (1.65 - 3.53)</text>
<path d="M478.21 655.90H494.62" stroke="#858585" stroke-width="1.6"/>
<text x="297.50" y="668.70" font-size="6.7" textLength="13.46" lengthAdjust="spacingAndGlyphs" fill="#1e1e1e" stroke="#1e1e1e" stroke-width="0.06">High</text>
<text x="360.03" y="668.70" font-size="6.7" textLength="6.93" lengthAdjust="spacingAndGlyphs" fill="#1e1e1e" stroke="#1e1e1e" stroke-width="0.06">78</text>
<text x="377.24" y="668.84" font-size="7.1" textLength="49.56" lengthAdjust="spacingAndGlyphs" fill="#1e1e1e" stroke="#1e1e1e" stroke-width="0.06">4.01 (2.69 - 5.98)</text>
<path d="M488.76 666.70H506.00" stroke="#858585" stroke-width="1.6"/>
<path d="M467.40 563.30V677.70" stroke="#111" stroke-width="1.4" stroke-dasharray="2.00 2.18"/>
<circle cx="467.40" cy="567.40" r="1.25" fill="#a3002d"/>
<circle cx="448.68" cy="577.56" r="1.25" fill="#a3002d"/>
<circle cx="458.10" cy="587.82" r="1.25" fill="#a3002d"/>
<circle cx="472.39" cy="598.08" r="1.25" fill="#a3002d"/>
<circle cx="458.43" cy="608.34" r="1.25" fill="#a3002d"/>
<circle cx="464.39" cy="618.60" r="1.25" fill="#a3002d"/>
<circle cx="467.40" cy="635.70" r="1.25" fill="#a3002d"/>
<circle cx="482.89" cy="645.60" r="1.25" fill="#a3002d"/>
<circle cx="486.39" cy="655.90" r="1.25" fill="#a3002d"/>
<circle cx="497.38" cy="666.70" r="1.25" fill="#a3002d"/>
<text x="269.28" y="590.67" font-size="6.9" textLength="24.04" lengthAdjust="spacingAndGlyphs" font-weight="bold" fill="#000" stroke="#000" stroke-width="0.06">Genetic</text>
<text x="268.37" y="598.37" font-size="6.9" textLength="25.86" lengthAdjust="spacingAndGlyphs" font-weight="bold" fill="#000" stroke="#000" stroke-width="0.06">Subtype</text>
<text x="277.29" y="652.37" font-size="6.9" textLength="8.01" lengthAdjust="spacingAndGlyphs" font-weight="bold" fill="#000" stroke="#000" stroke-width="0.06">IPI</text>
<rect x="0.5" y="0.5" width="519" height="684" fill="none" stroke="#000" stroke-width="1.2"/>
</svg>
</body></html>
